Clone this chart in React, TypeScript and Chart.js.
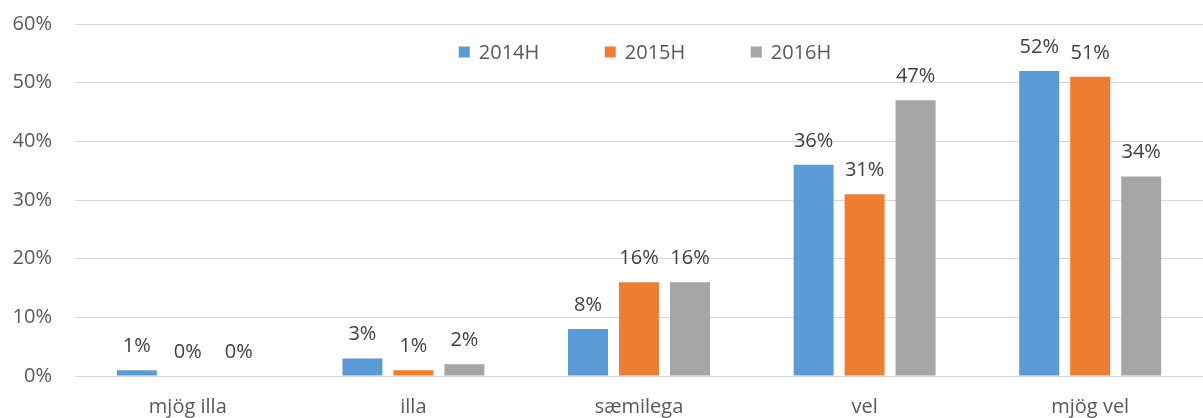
import React, { useEffect, useRef } from "react";
import { Chart, registerables } from "chart.js";

Chart.register(...registerables);

const categories = ["mjög illa", "illa", "sæmilega", "vel", "mjög vel"];
const seriesNames = ["2014H", "2015H", "2016H"];
const series2014 = [1, 3, 8, 36, 52];
const series2015 = [0, 1, 16, 31, 51];
const series2016 = [0, 2, 16, 47, 34];
const colors = ["#5B9BD5", "#ED7D31", "#A5A5A5"];
const yTicks = [0, 10, 20, 30, 40, 50, 60];

const FONT = "'Open Sans', Lato, sans-serif";
const FS = 20;

const dataLabelPlugin = {
  id: "dataLabels",
  afterDatasetsDraw(chart: any) {
    const ctx = chart.ctx;
    ctx.save();
    ctx.font = `${FS}px ${FONT}`;
    ctx.fillStyle = "#404040";
    ctx.textAlign = "center";
    ctx.textBaseline = "bottom";
    chart.data.datasets.forEach((ds: any, i: number) => {
      const meta = chart.getDatasetMeta(i);
      meta.data.forEach((el: any, j: number) => {
        ctx.fillText(ds.data[j] + "%", el.x, el.y - 14);
      });
    });
    ctx.restore();
  },
};

const legendPlugin = {
  id: "overlayLegend",
  afterDraw(chart: any) {
    const ctx = chart.ctx;
    const area = chart.chartArea;
    ctx.save();
    ctx.font = `${FS}px ${FONT}`;
    ctx.textBaseline = "middle";
    ctx.textAlign = "left";
    const box = 11;
    const gap = 9;
    const spacing = 146;
    const items = chart.data.datasets.map((ds: any) => ({
      label: ds.label,
      color: ds.backgroundColor,
      w: box + gap + ctx.measureText(ds.label).width,
    }));
    const total = spacing * (items.length - 1) + items[items.length - 1].w;
    let x = (area.left + area.right) / 2 - total / 2 + 6;
    const y = 52;
    items.forEach((it: any) => {
      ctx.fillStyle = it.color;
      ctx.fillRect(x, y - box / 2, box, box);
      ctx.fillStyle = "#595959";
      ctx.fillText(it.label, x + box + gap, y + 1);
      x += spacing;
    });
    ctx.restore();
  },
};

export default function App() {
  const ref = useRef<HTMLCanvasElement>(null);
  useEffect(() => {
    document.body.style.margin = "0";
    const values = [series2014, series2015, series2016];
    const chart = new Chart(ref.current!, {
      type: "bar",
      data: {
        labels: categories,
        datasets: seriesNames.map((name, i) => ({
          label: name,
          data: values[i],
          backgroundColor: colors[i],
          categoryPercentage: 0.678,
          barPercentage: 0.784,
        })),
      },
      options: {
        animation: false,
        responsive: false,
        maintainAspectRatio: false,
        layout: { padding: { top: 24, right: 0, left: 0, bottom: 0 } },
        plugins: {
          legend: { display: false },
          tooltip: { enabled: false },
        },
        scales: {
          x: {
            grid: { display: false },
            border: { color: "#D9D9D9", width: 1 },
            ticks: {
              color: "#595959",
              font: { family: FONT, size: FS },
              padding: 11,
            },
            afterFit(scale: any) {
              scale.height = 42;
              scale.paddingLeft = 0;
              scale.paddingRight = 0;
            },
          },
          y: {
            min: 0,
            max: 60,
            afterBuildTicks(scale: any) {
              scale.ticks = yTicks.map((v) => ({ value: v }));
            },
            grid: { color: "#D9D9D9", lineWidth: 1, drawTicks: false },
            border: { display: false },
            ticks: {
              color: "#595959",
              font: { family: FONT, size: FS },
              padding: 23,
              callback: (v: any) => v + "%",
            },
            afterFit(scale: any) {
              scale.width = 75;
              scale.paddingTop = 0;
              scale.paddingBottom = 0;
            },
          },
        },
      },
      plugins: [dataLabelPlugin, legendPlugin],
    });
    return () => chart.destroy();
  }, []);
  return (
    <div style={{ position: "fixed", left: 0, top: 0, width: 1203, height: 418 }}>
      <canvas ref={ref} width={1203} height={418} style={{ width: 1203, height: 418 }} />
    </div>
  );
}
